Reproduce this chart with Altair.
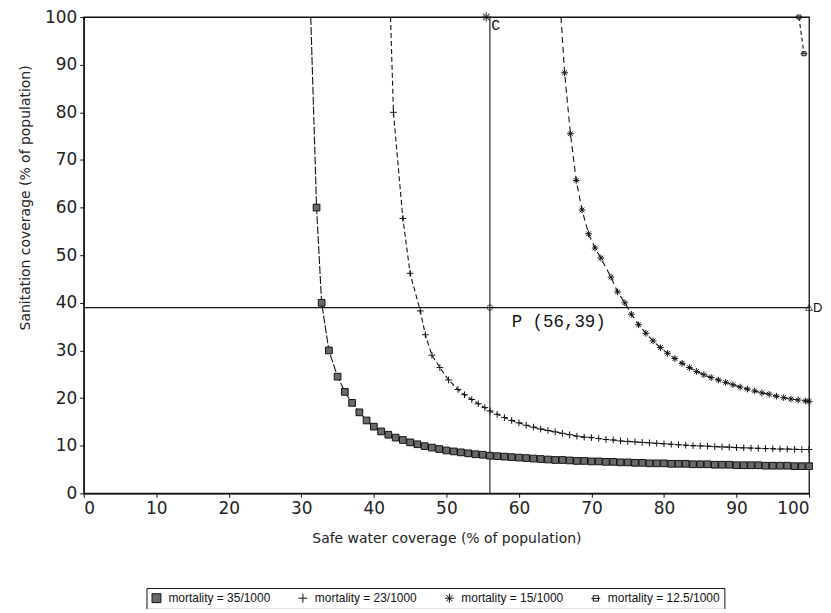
import altair as alt
import pandas as pd

# ---------------- data ----------------
series_names = ["mortality = 35/1000", "mortality = 23/1000",
                "mortality = 15/1000", "mortality = 12.5/1000"]

m35_x = [31.3, 32.1, 32.8, 33.8, 35, 36, 37, 38, 39, 40, 41, 42, 43, 44, 45, 46, 47, 48, 49, 50,
         51, 52, 53, 54, 55, 56, 57, 58, 59, 60, 61, 62, 63, 64, 65, 66, 67, 68, 69, 70,
         71, 72, 73, 74, 75, 76, 77, 78, 79, 80, 81, 82, 83, 84, 85, 86, 87, 88, 89, 90,
         91, 92, 93, 94, 95, 96, 97, 98, 99, 100]
m35_y = [100, 60, 40, 30, 24.5, 21.3, 19, 17, 15.3, 14, 13, 12.3, 11.7, 11.2, 10.7, 10.3, 9.9, 9.6, 9.3, 9.0,
         8.8, 8.6, 8.4, 8.2, 8.1, 7.9, 7.8, 7.7, 7.6, 7.5, 7.4, 7.3, 7.2, 7.1, 7.0, 7.0, 6.9, 6.8, 6.8, 6.7,
         6.7, 6.6, 6.6, 6.5, 6.5, 6.4, 6.4, 6.3, 6.3, 6.3, 6.2, 6.2, 6.2, 6.1, 6.1, 6.1, 6.0, 6.0, 6.0, 5.9,
         5.9, 5.9, 5.9, 5.8, 5.8, 5.8, 5.8, 5.7, 5.7, 5.7]

m23_x = [42.3, 42.7, 44, 45, 46.4, 47.1, 48, 49.1, 50.3, 51.6, 52.5, 53.5, 54.4, 55.3, 56, 57, 58, 59, 60,
         61, 62, 63, 64, 65, 66, 67, 68, 69, 70, 71, 72, 73, 74, 75, 76, 77, 78, 79, 80,
         81, 82, 83, 84, 85, 86, 87, 88, 89, 90, 91, 92, 93, 94, 95, 96, 97, 98, 99, 100]
m23_y = [100, 80, 57.7, 46.2, 38.3, 33.3, 29, 26.4, 23.8, 21.8, 20.7, 19.7, 18.8, 18.0, 17.3, 16.6, 15.9, 15.3, 14.8,
         14.3, 13.9, 13.5, 13.2, 12.9, 12.6, 12.3, 12.0, 11.8, 11.7, 11.5, 11.3, 11.2, 11.0, 10.9, 10.8, 10.7, 10.6, 10.5, 10.4,
         10.3, 10.2, 10.1, 10.0, 9.95, 9.9, 9.8, 9.75, 9.7, 9.6, 9.55, 9.5, 9.45, 9.4, 9.35, 9.3, 9.3, 9.25, 9.2, 9.2]

m15_x = [65.8, 66.3, 67.1, 67.9, 68.7, 69.6, 70.5, 71.3, 72.7, 73.6, 74.6, 75.5, 76.5, 77.5, 78.5, 79.5,
         80.5, 81.5, 82.5, 83.5, 84.5, 85.5, 86.5, 87.5, 88.5, 89.5, 90.5, 91.5, 92.5, 93.5, 94.5,
         95.5, 96.5, 97.5, 98.5, 99.5, 100]
m15_y = [100, 88.3, 75.5, 65.7, 59.5, 54.5, 51.5, 49.4, 45.4, 42.3, 40, 37.6, 35.4, 33.6, 32.0, 30.6,
         29.4, 28.3, 27.3, 26.4, 25.6, 24.9, 24.3, 23.8, 23.3, 22.8, 22.3, 21.9, 21.5, 21.1, 20.8,
         20.4, 20.1, 19.8, 19.6, 19.4, 19.3]

m125_x = [98.6, 99.3]
m125_y = [100, 92.3]

# reference lines and annotated points
p_x, p_y = 56, 39
c_x, c_y = 55.5, 100
d_x, d_y = 100, 39
ann_text = ["C", "P (56,39)", "D"]
ann_x = [55.5, 59, 100]
ann_y = [100, 36, 39]

# ---------------- tables ----------------
rows = []
for k, (name, xs, ys) in enumerate(zip(series_names, [m35_x, m23_x, m15_x, m125_x],
                                       [m35_y, m23_y, m15_y, m125_y])):
    for i, (a, b) in enumerate(zip(xs, ys)):
        # the three steep curves leave the top frame without a marker there
        rows.append({"series": name, "k": k, "x": a, "y": b, "i": i,
                     "mark": 0 if (i == 0 and k < 3) else 1})
curves = pd.DataFrame(rows)

plus = "M-1,0H1M0,-1V1"
aster = "M-1,0H1M0,-1V1M-0.7,-0.7L0.7,0.7M-0.7,0.7L0.7,-0.7"
boxline = "M-0.6,-0.6H0.6V0.6H-0.6ZM-1,0H1"
shape_range = ["square", plus, aster, boxline]
fill_range = ["#6a6a6a", "transparent", "transparent", "transparent"]
stroke_range = ["#111111", "#111111", "#111111", "#111111"]
dash_list = [[8, 2], [5, 3], [6, 4], [4, 3]]

xscale = alt.Scale(domain=[0, 100], nice=False, zero=False)
yscale = alt.Scale(domain=[0, 100], nice=False, zero=False)
tick_vals = list(range(0, 101, 10))

xenc = alt.X("x:Q", scale=xscale,
             axis=alt.Axis(values=tick_vals, title="Safe water coverage (% of population)",
                           titlePadding=15))
yenc = alt.Y("y:Q", scale=yscale,
             axis=alt.Axis(values=tick_vals, title="Sanitation coverage (% of population)",
                           titlePadding=12, titleY=181))

base = alt.Chart(curves)
line_layers = [
    base.transform_filter(f"datum.k == {k}").mark_line(
        color="#111111", strokeWidth=1.1, strokeDash=dash_list[k]).encode(
        x=xenc, y=yenc, order="i:Q")
    for k in range(4)
]

legend_def = alt.Legend(orient="none", legendX=63, legendY=573, direction="horizontal",
                        title=None)
points = base.transform_filter("datum.mark == 1").mark_point(
    strokeWidth=1, size=45, opacity=1).encode(
    x="x:Q", y="y:Q",
    shape=alt.Shape("series:N", scale=alt.Scale(domain=series_names, range=shape_range),
                    legend=legend_def),
    fill=alt.Fill("series:N", scale=alt.Scale(domain=series_names, range=fill_range),
                  legend=legend_def),
    stroke=alt.Stroke("series:N", scale=alt.Scale(domain=series_names, range=stroke_range),
                      legend=legend_def),
)

hrule = alt.Chart(pd.DataFrame({"x": [0], "x2": [100], "y": [p_y]})).mark_rule(
    color="#111111", strokeWidth=1.1).encode(x="x:Q", x2="x2:Q", y="y:Q")
vrule = alt.Chart(pd.DataFrame({"x": [p_x], "y": [0], "y2": [100]})).mark_rule(
    color="#111111", strokeWidth=1.1).encode(x="x:Q", y="y:Q", y2="y2:Q")

c_pt = alt.Chart(pd.DataFrame({"x": [c_x], "y": [c_y]})).mark_point(
    shape=aster, size=90, color="#111111", strokeWidth=1.2).encode(x="x:Q", y="y:Q")
p_pt = alt.Chart(pd.DataFrame({"x": [p_x], "y": [p_y]})).mark_point(
    shape="circle", size=30, color="#111111", strokeWidth=1).encode(x="x:Q", y="y:Q")
d_pt = alt.Chart(pd.DataFrame({"x": [d_x], "y": [d_y]})).mark_point(
    shape="triangle-up", size=45, color="#111111", strokeWidth=1).encode(x="x:Q", y="y:Q")

ann = pd.DataFrame({"t": ann_text, "x": ann_x, "y": ann_y})
c_txt = alt.Chart(ann.iloc[[0]]).mark_text(
    font="Liberation Mono", fontSize=15, color="#111111", align="left", dx=5, dy=8).encode(
    x="x:Q", y="y:Q", text="t:N")
p_txt = alt.Chart(ann.iloc[[1]]).mark_text(
    font="Liberation Mono", fontSize=17.5, color="#111111", align="left", baseline="middle").encode(
    x="x:Q", y="y:Q", text="t:N")
d_txt = alt.Chart(ann.iloc[[2]]).mark_text(
    font="Liberation Sans", fontSize=13, color="#111111", align="left", dx=4, baseline="middle").encode(
    x="x:Q", y="y:Q", text="t:N")

chart = alt.layer(hrule, vrule, *line_layers, points, c_pt, p_pt, d_pt, c_txt, p_txt, d_txt).properties(
    width=728, height=478,
    autosize=alt.AutoSizeParams(type="none"),
    padding={"left": 76, "top": 8, "right": 14, "bottom": 115},
    background="white",
).configure_view(
    stroke="#111111", strokeWidth=1.3
).configure_axis(
    grid=False, domainColor="#111111", domainWidth=1.3, tickColor="#111111", tickSize=4,
    labelFont="DejaVu Sans", labelFontSize=17, labelColor="#222222", labelPadding=3,
    titleFont="DejaVu Sans", titleFontSize=14, titleFontWeight="normal", titleColor="#222222",
).configure_legend(
    strokeColor="#111111", padding=4, labelFontSize=12, labelFont="Liberation Sans",
    labelColor="#111111", symbolSize=80, symbolStrokeWidth=1,
    columnPadding=25, labelOffset=6,
)

chart.save("out.html", embed_options={"renderer": "svg", "actions": False})
